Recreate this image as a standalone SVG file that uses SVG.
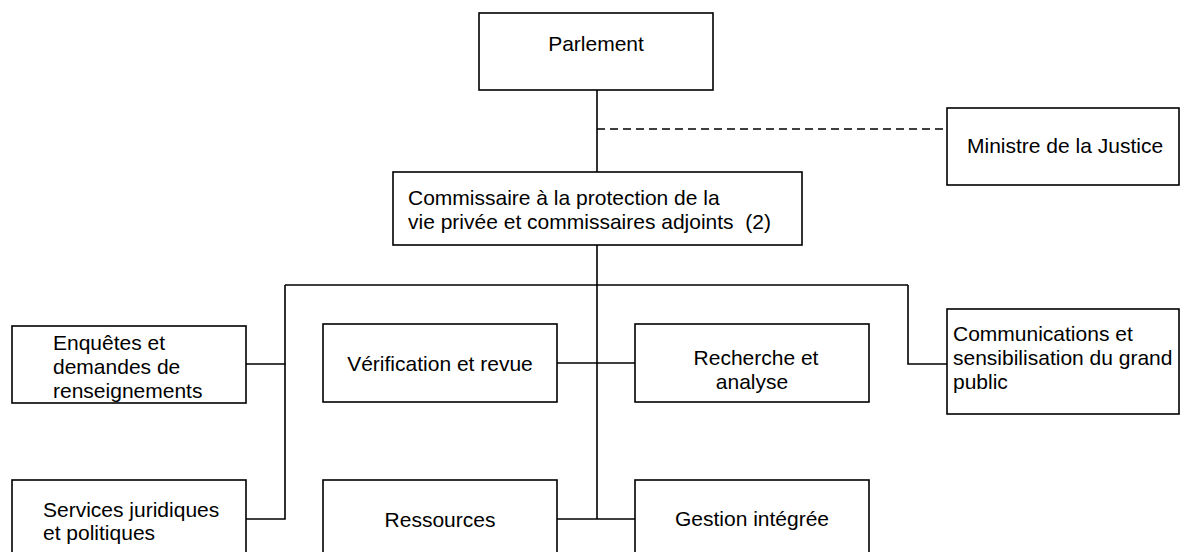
<svg xmlns="http://www.w3.org/2000/svg" width="1180" height="552" viewBox="0 0 1180 552">
<style>
.box{fill:#fff;stroke:#000;stroke-width:1.6}
.ln{fill:none;stroke:#000;stroke-width:1.6}
.dash{fill:none;stroke:#000;stroke-width:1.6;stroke-dasharray:8 5}
text{font-family:"Liberation Sans",Arial,sans-serif;font-size:21px;fill:#000}
.c{text-anchor:middle}
</style>
<rect width="1180" height="552" fill="#fff"/>
<g id="connectors">
<line class="ln" x1="597" y1="90" x2="597" y2="172"/>
<line class="dash" x1="597" y1="129" x2="947" y2="129"/>
<line class="ln" x1="597" y1="245" x2="597" y2="519"/>
<line class="ln" x1="285" y1="285" x2="908" y2="285"/>
<polyline class="ln" points="246,364 285,364 285,285"/>
<polyline class="ln" points="246,519 285,519 285,364"/>
<polyline class="ln" points="908,285 908,364 947,364"/>
<line class="ln" x1="557" y1="363" x2="635" y2="363"/>
<line class="ln" x1="557" y1="519" x2="635" y2="519"/>
</g>
<g id="parlement">
<rect class="box" x="479" y="13" width="234" height="77"/>
<text class="c" x="596" y="51">Parlement</text>
</g>
<g id="ministre">
<rect class="box" x="947" y="108" width="232" height="77"/>
<text x="967" y="153">Ministre de la Justice</text>
</g>
<g id="commissaire">
<rect class="box" x="393" y="172" width="409" height="73"/>
<text x="408" y="205">Commissaire à la protection de la</text>
<text x="408" y="229">vie privée et commissaires adjoints&#160; (2)</text>
</g>
<g id="enquetes">
<rect class="box" x="12" y="326" width="234" height="77"/>
<text x="53" y="350">Enquêtes et</text>
<text x="53" y="374">demandes de</text>
<text x="53" y="398">renseignements</text>
</g>
<g id="verification">
<rect class="box" x="323" y="324" width="234" height="78"/>
<text class="c" x="440" y="371">Vérification et revue</text>
</g>
<g id="recherche">
<rect class="box" x="635" y="324" width="234" height="78"/>
<text class="c" x="756" y="365">Recherche et</text>
<text class="c" x="752" y="389">analyse</text>
</g>
<g id="communications">
<rect class="box" x="947" y="309" width="232" height="105"/>
<text x="953" y="341">Communications et</text>
<text x="953" y="365">sensibilisation du grand</text>
<text x="953" y="389">public</text>
</g>
<g id="services">
<rect class="box" x="12" y="480" width="234" height="90"/>
<text x="43" y="517">Services juridiques</text>
<text x="43" y="540">et politiques</text>
</g>
<g id="ressources">
<rect class="box" x="323" y="480" width="234" height="90"/>
<text class="c" x="440" y="527">Ressources</text>
</g>
<g id="gestion">
<rect class="box" x="635" y="480" width="234" height="90"/>
<text class="c" x="752" y="526">Gestion intégrée</text>
</g>
</svg>
